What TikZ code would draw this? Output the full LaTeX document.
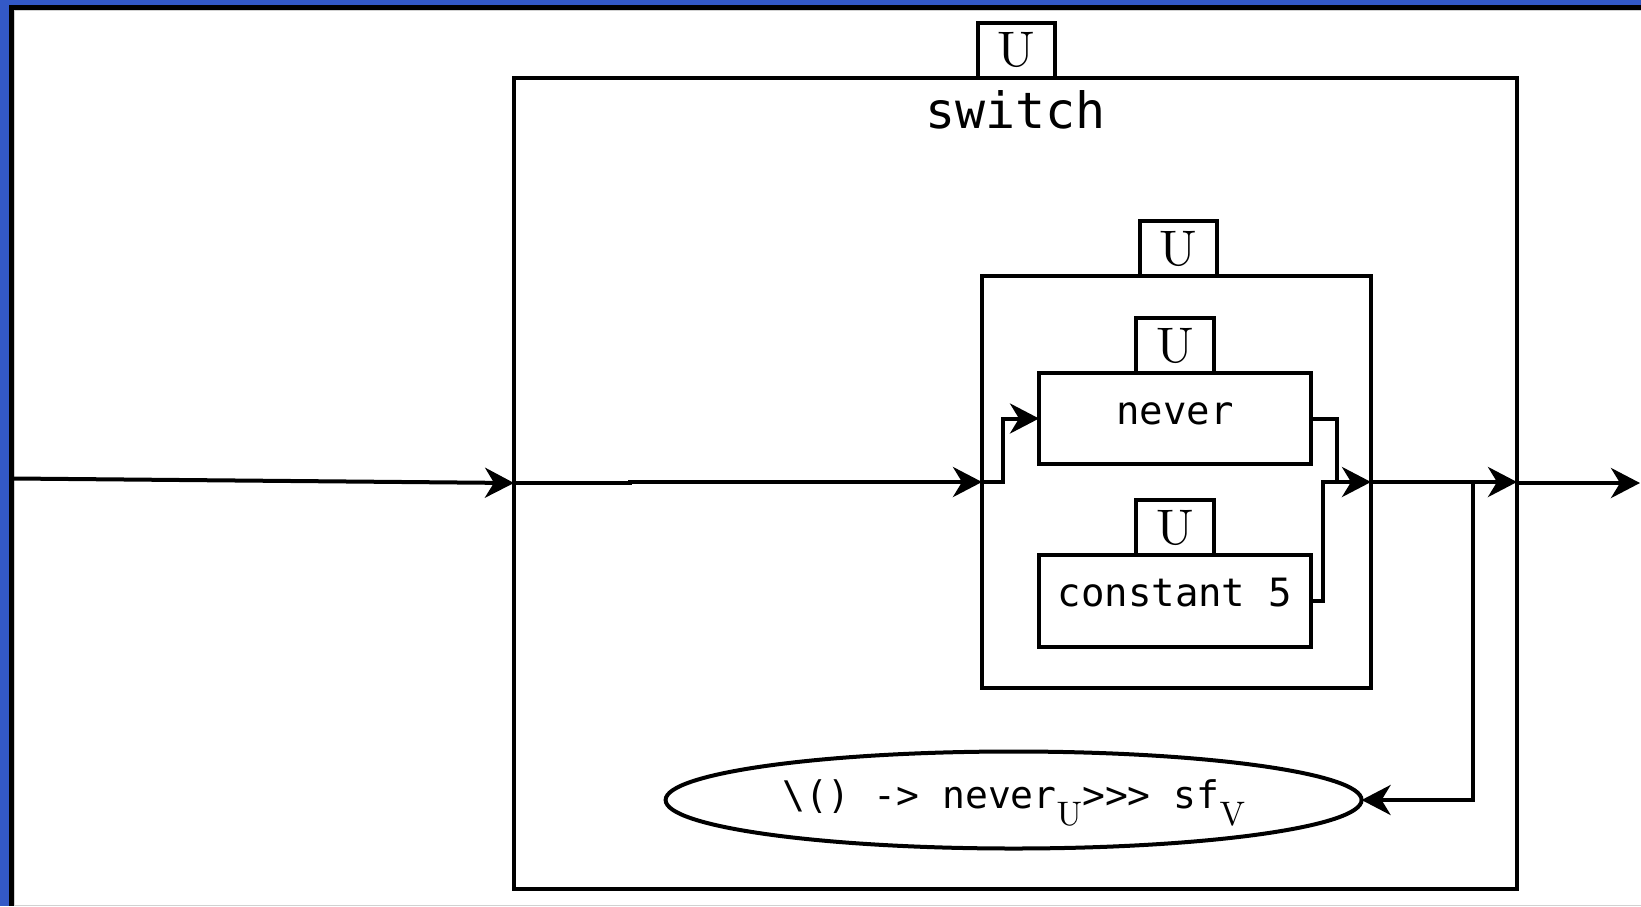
\documentclass[tikz,border=0pt]{standalone}
\usepackage{fontspec}
\setmonofont{DejaVu Sans Mono}
\newfontfamily\tagfont{lmroman10-regular.otf}
\usetikzlibrary{arrows.meta,shapes.geometric}
\definecolor{frameblue}{RGB}{51,89,199}
% lowered serif index inside the code text
\newcommand\lowtag[1]{\raisebox{-0.45em}{\fontsize{34}{34}\selectfont\tagfont #1}}

\begin{document}
\begin{tikzpicture}[x=1pt,y=-1pt,
  wire/.style={line width=4pt},
  arr/.style={wire,-{Stealth[length=29pt,width=30pt,inset=9pt]}},
  blockbox/.style={draw,line width=4pt,inner sep=0pt,outer sep=0pt},
  tagbox/.style={blockbox,minimum width=77.5pt,minimum height=55pt,
    font=\fontsize{50}{50}\selectfont\tagfont},
  codetext/.style={font=\fontsize{39}{39}\selectfont\ttfamily},
]
\useasboundingbox (0,0) rectangle (1641,906);

% window frame
\fill[frameblue] (0,0) rectangle (1641,906);
\fill[black] (9,5) rectangle (1641,906);
\fill[black!18] (14,10) rectangle (1641,906);
\fill[white] (15,11) rectangle (1641,905);

% switch block
\node[blockbox,minimum width=1003pt,minimum height=811pt] (sw) at (1015.5,483) {};
\node[tagbox] (swtag) at (1016.5,50) {U};
\node[font=\fontsize{50}{50}\selectfont\ttfamily,anchor=base] (swlabel) at (1015.5,128) {switch};

% parallel composition
\node[blockbox,minimum width=389pt,minimum height=412pt] (par) at (1176.5,482) {};
\node[tagbox] (partag) at (1178.5,248.5) {U};

\node[blockbox,codetext,minimum width=272pt,minimum height=91pt,
  text height=24pt,text depth=13pt] (never) at (1175,418.5) {never};
\node[tagbox] (nevertag) at (1175,345.5) {U};

\node[blockbox,codetext,minimum width=272pt,minimum height=92pt,
  text height=23pt,text depth=13pt] (const) at (1175,601) {constant 5};
\node[tagbox] (consttag) at (1175,527.5) {U};

% continuation
\node[draw,ellipse,line width=4pt,inner sep=0pt,outer sep=0pt,
  minimum width=696pt,minimum height=97pt,
  font=\fontsize{38}{38}\selectfont\ttfamily,text height=30pt,text depth=14pt]
  (ell) at (1013.6,800) {\textbackslash() -> never\lowtag{U}>>> sf\lowtag{V}};

% connectors
\coordinate (src) at (14,478.5);
\coordinate (mrg) at (1337,482);
\coordinate (br) at (1473,482);
\coordinate (sink) at (1640,483);

\draw[arr] (src) -- (sw.west);
\draw[arr] (sw.west) -- ++(116,0) |- (par.west);
\draw[arr] (par.west) -- ++(21,0) |- (never.west);
\draw[wire] (never.east) -| (mrg);
\draw[arr] (const.east) -- ++(12,0) |- (par.east);
\draw[arr] (par.east) -- (par.east -| sw.east);
\draw[arr] (br) |- (ell.east);
\draw[arr] (sw.east) -- (sink);
\end{tikzpicture}
\end{document}
